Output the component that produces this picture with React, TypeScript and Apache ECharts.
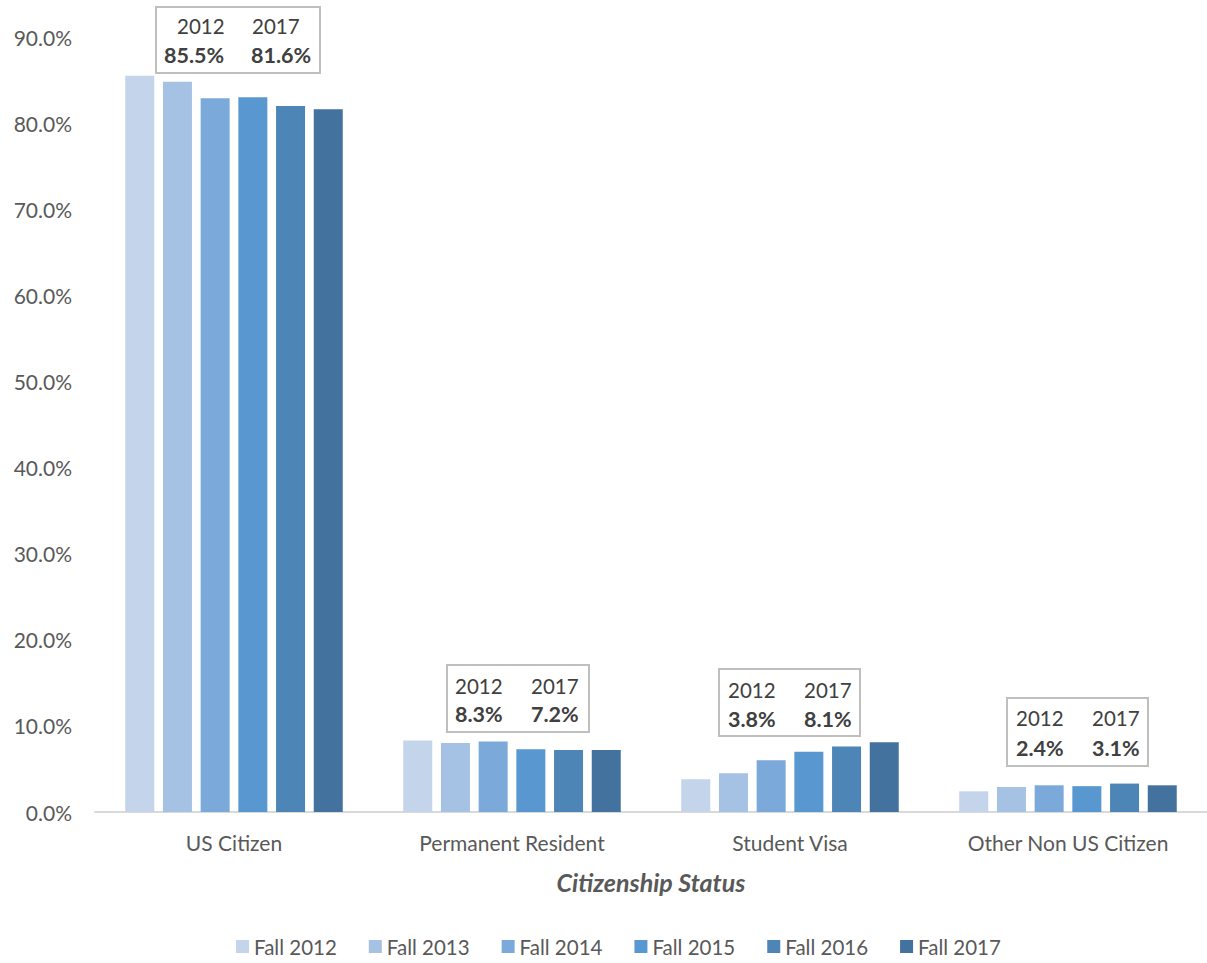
import React, { useEffect, useRef } from "react";
import * as echarts from "echarts";

const categories = ["US Citizen", "Permanent Resident", "Student Visa", "Other Non US Citizen"];
const seriesNames = ["Fall 2012", "Fall 2013", "Fall 2014", "Fall 2015", "Fall 2016", "Fall 2017"];
const fall2012 = [85.5, 8.3, 3.8, 2.4];
const fall2013 = [84.8, 8.0, 4.5, 2.9];
const fall2014 = [82.9, 8.2, 6.0, 3.1];
const fall2015 = [83.0, 7.3, 7.0, 3.0];
const fall2016 = [82.0, 7.2, 7.6, 3.3];
const fall2017 = [81.6, 7.2, 8.1, 3.1];
const seriesValues = [fall2012, fall2013, fall2014, fall2015, fall2016, fall2017];
const colors = ["#c4d5eb", "#a5c1e4", "#7ba9da", "#5897cf", "#4e85b7", "#43729f"];
const yTicks = [0, 10, 20, 30, 40, 50, 60, 70, 80, 90];

const FONT = "Lato, 'Liberation Sans', sans-serif";
const TEXT = "#595959";
const DARK = "#404040";

function annotation(left: number, top: number, w: number, h: number, cat: number, offs: number[]) {
  const v1 = fall2012[cat].toFixed(1) + "%";
  const v2 = fall2017[cat].toFixed(1) + "%";
  const [y1x, y2x, p1x, p2x, yRow, pRow] = offs;
  const mk = (text: string, x: number, y: number, bold: boolean) => ({
    type: "text",
    x: left + x,
    y: top + y,
    style: {
      text,
      fill: DARK,
      fontSize: bold ? 21.5 : 20.5,
      fontWeight: bold ? "bold" : "normal",
      fontFamily: FONT,
      verticalAlign: "middle",
      align: "left",
    },
  });
  return {
    type: "group",
    children: [
      {
        type: "rect",
        shape: { x: left, y: top, width: w, height: h },
        style: { fill: "#ffffff", stroke: "#bfbfbf", lineWidth: 2 },
      },
      mk("2012", y1x, yRow, false),
      mk("2017", y2x, yRow, false),
      mk(v1, p1x, pRow, true),
      mk(v2, p2x, pRow, true),
    ],
  };
}

export default function App() {
  const ref = useRef<HTMLDivElement>(null);
  useEffect(() => {
    if (!ref.current) return;
    const chart = echarts.init(ref.current, undefined, { renderer: "svg" });
    chart.setOption({
      animation: false,
      backgroundColor: "#ffffff",
      grid: { left: 95, top: 37, width: 1120, height: 775 },
      legend: {
        data: seriesNames,
        left: 236,
        top: 936,
        padding: 0,
        icon: "rect",
        itemWidth: 13,
        itemHeight: 13,
        itemGap: 32,
        textStyle: { fontSize: 20.5, color: TEXT, fontFamily: FONT },
      },
      xAxis: {
        type: "category",
        data: categories,
        axisLine: { lineStyle: { color: "#d9d9d9", width: 2 } },
        axisTick: { show: false },
        axisLabel: { fontSize: 21, color: TEXT, fontFamily: FONT, margin: 20 },
        name: "Citizenship Status",
        nameLocation: "middle",
        nameGap: 57,
        nameTextStyle: {
          fontSize: 25,
          fontWeight: "bold",
          fontStyle: "italic",
          color: TEXT,
          fontFamily: FONT,
        },
      },
      yAxis: {
        type: "value",
        min: yTicks[0],
        max: yTicks[yTicks.length - 1],
        interval: 10,
        axisLine: { show: false },
        axisTick: { show: false },
        splitLine: { show: false },
        axisLabel: {
          fontSize: 21,
          color: TEXT,
          fontFamily: FONT,
          margin: 23,
          formatter: (v: number) => v.toFixed(1) + "%",
        },
      },
      series: seriesNames.map((name, i) => ({
        name,
        type: "bar",
        data: seriesValues[i],
        barWidth: 29,
        barGap: "30%",
        itemStyle: { color: colors[i] },
      })),
      graphic: [
        annotation(156, 7, 164, 66, 0, [21, 96, 8, 95, 19, 48]),
        annotation(447, 665, 142, 67, 1, [8, 84, 8, 84, 21, 49]),
        annotation(719, 669, 141, 67, 2, [9, 85, 9, 85, 21, 50]),
        annotation(1007, 698, 141, 68, 3, [9, 85, 9, 85, 20, 50]),
      ],
    });
    return () => chart.dispose();
  }, []);
  return (
    <div
      ref={ref}
      style={{ position: "fixed", left: 0, top: 0, width: 1207, height: 963, background: "#fff" }}
    />
  );
}
